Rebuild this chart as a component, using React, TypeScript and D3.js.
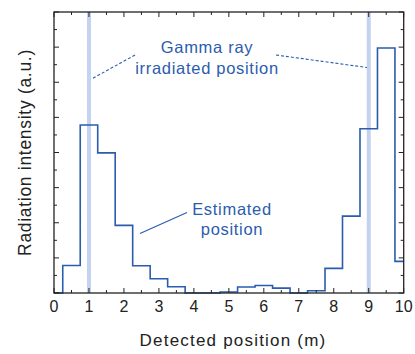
import React from "react";
import * as d3 from "d3";

// histogram bins, width 0.5 m, centred on the half-metre marks
const binEdges = [0, 0.25, 0.75, 1.25, 1.75, 2.25, 2.75, 3.25, 3.75, 4.25, 4.75, 5.25, 5.75, 6.25, 6.75, 7.25, 7.75, 8.25, 8.75, 9.25, 9.75, 10];
const binValues = [0, 1.57, 9.57, 7.98, 3.85, 1.55, 0.81, 0.36, 0, 0, 0.06, 0.34, 0.43, 0.28, 0, 0.13, 1.4, 4.38, 9.35, 13.95, 1.8];
const gammaPositions = [1, 9];
const xTicks = [0, 1, 2, 3, 4, 5, 6, 7, 8, 9, 10];

const blue = "#2b5cae";
const band = "#c3d2ee";
const font = "Liberation Sans, Arial, Helvetica, sans-serif";

const width = 415;
const height = 354;
const margin = { left: 54, right: 12, top: 12, bottom: 61 };

const App = () => {
  const x = d3.scaleLinear().domain([0, 10]).range([margin.left, width - margin.right + 0.7]);
  const y = d3.scaleLinear().domain([0, 16]).range([height - margin.bottom, margin.top]);

  const [x0, x1] = x.range();
  const [y0, y1] = y.range();

  // step path through the bins
  let d = `M${x(binEdges[0])},${y(0)}`;
  binValues.forEach((v, i) => {
    d += `L${x(binEdges[i])},${y(v)}L${x(binEdges[i + 1])},${y(v)}`;
  });

  const minorX = d3.range(0, 10.01, 0.5);
  const minorY = d3.range(0, 16.01, 1);

  const note = { fontFamily: font, fontSize: 16.5, fill: blue, letterSpacing: 0.7 };

  return (
    <div style={{ position: "absolute", left: 0, top: 0 }}>
      <svg width={width} height={height} style={{ display: "block" }}>
        {gammaPositions.map(g => (
          <rect key={g} x={x(g) - 2} y={y1} width={4} height={y0 - y1} fill={band} />
        ))}
        <path d={d} fill="none" stroke={blue} strokeWidth={1.6} />

        {/* frame and ticks */}
        <rect x={x0} y={y1} width={x1 - x0} height={y0 - y1} fill="none" stroke="#222" strokeWidth={1.3} />
        {minorX.map(t => {
          const len = Number.isInteger(t) ? 5 : 3;
          return (
            <g key={"x" + t} stroke="#222" strokeWidth={1}>
              <line x1={x(t)} x2={x(t)} y1={y0} y2={y0 - len} />
              <line x1={x(t)} x2={x(t)} y1={y1} y2={y1 + len} />
            </g>
          );
        })}
        {minorY.map(t => {
          const len = t % 2 === 0 ? 5 : 3;
          return (
            <g key={"y" + t} stroke="#222" strokeWidth={1}>
              <line x1={x0} x2={x0 + len} y1={y(t)} y2={y(t)} />
              <line x1={x1} x2={x1 - len} y1={y(t)} y2={y(t)} />
            </g>
          );
        })}
        {xTicks.map(t => (
          <text key={"l" + t} x={x(t)} y={y0 + 19} textAnchor="middle" fontFamily={font} fontSize={16} fill="#222">
            {t}
          </text>
        ))}

        <text x={233} y={346} textAnchor="middle" fontFamily={font} fontSize={17} letterSpacing={1.2} fill="#222">
          Detected position (m)
        </text>
        <text transform={`translate(31, ${(y0 + y1) / 2}) rotate(-90)`} textAnchor="middle" fontFamily={font} fontSize={17.5} letterSpacing={0.7} fill="#222">
          Radiation intensity (a.u.)
        </text>

        {/* annotations */}
        <text x={207} y={53} textAnchor="middle" {...note}>Gamma ray</text>
        <text x={207} y={74} textAnchor="middle" {...note}>irradiated position</text>
        <line x1={135} y1={55} x2={91.5} y2={79} stroke={blue} strokeWidth={1.1} strokeDasharray="3,2" />
        <line x1={276} y1={55} x2={367} y2={67.5} stroke={blue} strokeWidth={1.1} strokeDasharray="3,2" />

        <text x={232} y={215} textAnchor="middle" {...note}>Estimated</text>
        <text x={232} y={235} textAnchor="middle" {...note}>position</text>
        <line x1={187} y1={212.5} x2={140} y2={233.5} stroke={blue} strokeWidth={1.2} />
      </svg>
    </div>
  );
};

export default App;
